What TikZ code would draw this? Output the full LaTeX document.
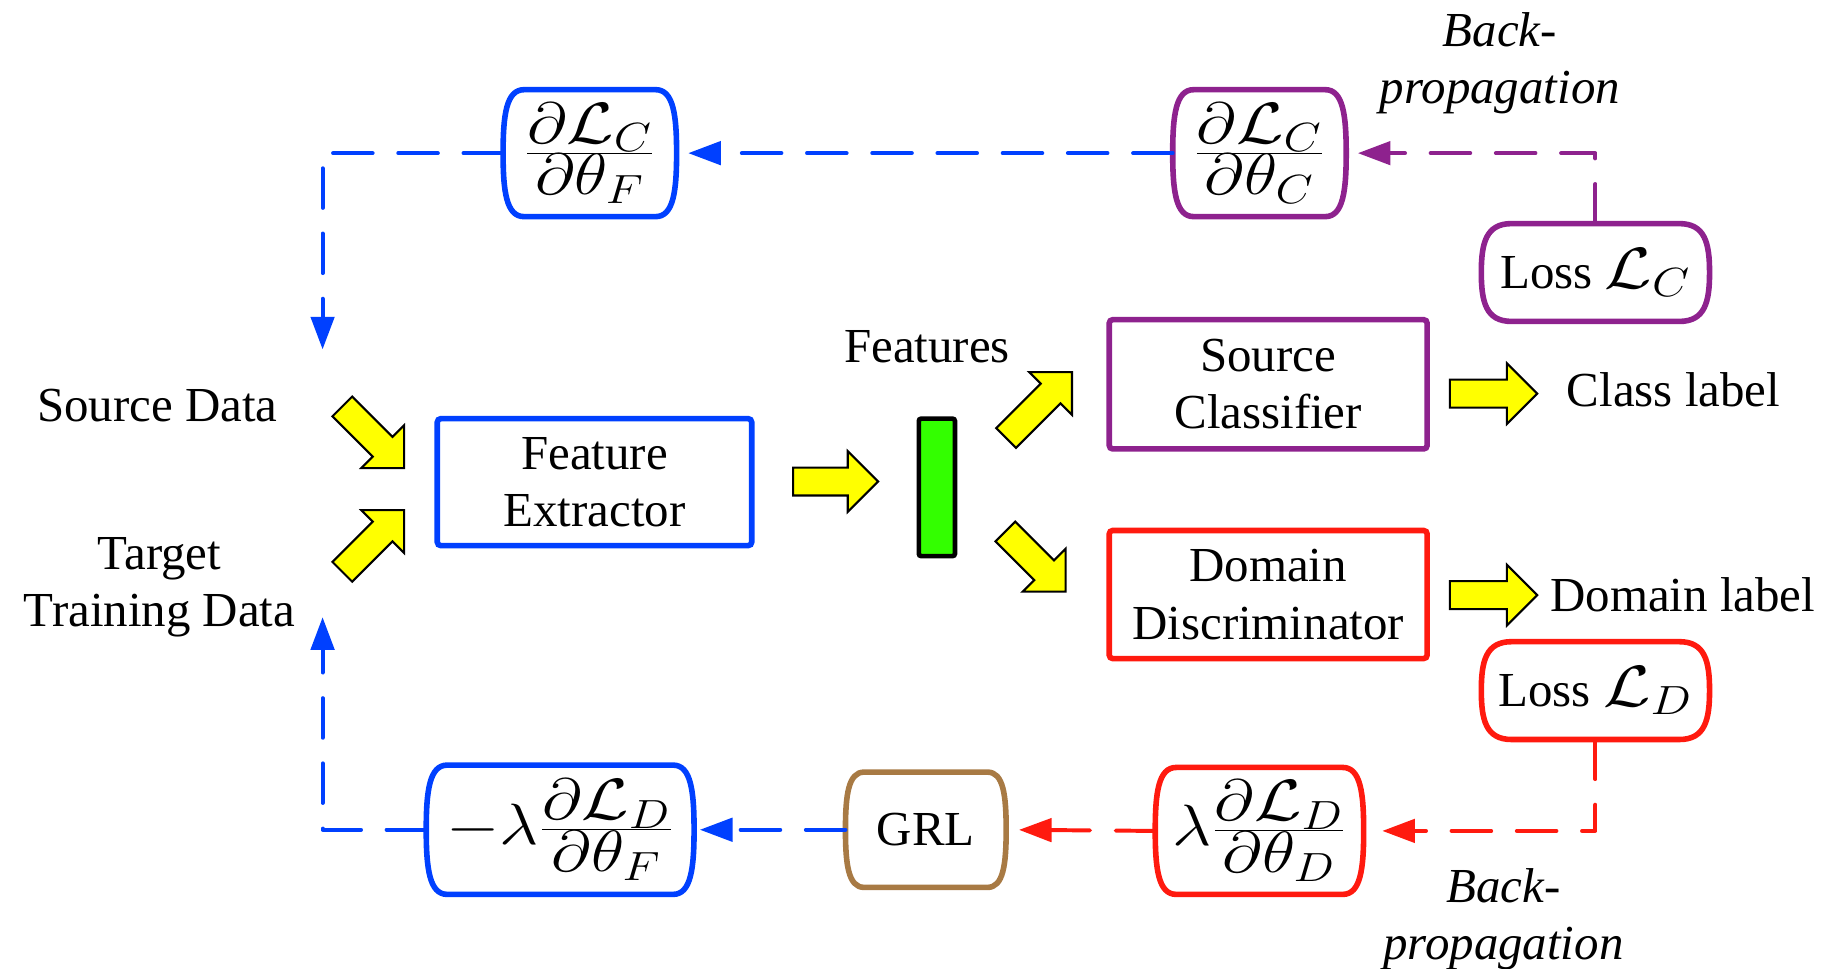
\RequirePackage{fix-cm}
\documentclass[tikz,border=0pt]{standalone}
\usepackage{graphicx}
\usepackage{fontspec}
\setmainfont{Liberation Serif}
\usetikzlibrary{arrows.meta}
\definecolor{cblue}{RGB}{0,64,255}
\definecolor{cpurple}{RGB}{142,34,142}
\definecolor{cred}{RGB}{255,26,15}
\definecolor{cbrown}{RGB}{168,122,68}
\definecolor{cgreen}{RGB}{51,255,0}
\definecolor{cyellow}{RGB}{255,255,0}
\newcommand\mainfs{\fontsize{21}{24.5}\selectfont}
\newcommand\mathfs{\fontsize{25}{28}\selectfont}
\newcommand\mwide[1]{{\mathfs\scalebox{1.18}[1]{$#1$}}}
\newcommand\fr[2]{\frac{\textstyle #1}{\textstyle #2}}
\newcommand\bulgeoutline[4]{%
  \draw[bulge,#1] ([xshift=#3]#2.north west) -- ([xshift=-#3]#2.north east)
    .. controls +(0.85*#3,0) and +(0,0.6*#4) .. (#2.east)
    .. controls +(0,-0.6*#4) and +(0.85*#3,0) .. ([xshift=-#3]#2.south east)
    -- ([xshift=#3]#2.south west)
    .. controls +(-0.85*#3,0) and +(0,-0.6*#4) .. (#2.west)
    .. controls +(0,0.6*#4) and +(-0.85*#3,0) .. ([xshift=#3]#2.north west) -- cycle;}
\begin{document}
\begin{tikzpicture}[x=0.5pt,y=-0.5pt, font=\mainfs,
  rbox/.style={draw, line width=2.4pt, rounded corners=1.5pt, inner sep=0pt, align=center},
  bnode/.style={inner sep=0pt, outer sep=0pt},
  bulge/.style={line width=2.4pt, line join=round},
  dline/.style={line width=1.7pt, dash pattern=on 17pt off 11pt, line cap=round, line join=round},
  arr/.style={-{Triangle[length=14pt,width=10pt]}},
  yarrow/.style={fill=cyellow, draw=black, line width=0.9pt, line join=miter},
  pics/yarr/.style={code={\draw[yarrow] (-#1,-12) -- (-26,-12) -- (-26,-26) -- (0,0) -- (-26,26) -- (-26,12) -- (-#1,12) -- cycle;}}]
\useasboundingbox (0,0) rectangle (1568,832);

% main boxes
\node[rbox, draw=cblue, minimum width=135pt, minimum height=54.5pt] (fe) at (510.5,414) {Feature\\Extractor};
\node[rbox, draw=cpurple, minimum width=136.5pt, minimum height=55.5pt] (sc) at (1089,330) {Source\\Classifier};
\node[rbox, draw=cred, minimum width=136.5pt, minimum height=55pt] (dd) at (1089,510.5) {Domain\\Discriminator};
\node[draw=black, fill=cgreen, line width=2pt, minimum width=15.5pt, minimum height=59pt, inner sep=0pt, rounded corners=1pt] (feat) at (804.5,418.5) {};

% gradient boxes
\node[bnode, minimum width=74.5pt, minimum height=54.5pt] (dF) at (506.5,131.5) {\mwide{\fr{\partial\mathcal{L}_C}{\partial\theta_F}}};
\bulgeoutline{cblue}{dF}{9pt}{27.25pt}
\node[bnode, minimum width=74.5pt, minimum height=54.5pt] (dC) at (1081.5,131.5) {\mwide{\fr{\partial\mathcal{L}_C}{\partial\theta_C}}};
\bulgeoutline{cpurple}{dC}{9pt}{27.25pt}
\node[bnode, minimum width=98pt, minimum height=42pt] (LC) at (1370,234) {Loss \mwide{\mathcal{L}_C}};
\bulgeoutline{cpurple}{LC}{13pt}{21pt}
\node[bnode, minimum width=98pt, minimum height=42pt] (LD) at (1370,593) {Loss \mwide{\mathcal{L}_D}};
\bulgeoutline{cred}{LD}{13pt}{21pt}
\node[bnode, minimum width=115pt, minimum height=55.5pt] (mF) at (481,712.5) {\mwide{-\lambda\fr{\partial\mathcal{L}_D}{\partial\theta_F}}};
\bulgeoutline{cblue}{mF}{9pt}{27.75pt}
\node[bnode, minimum width=69pt, minimum height=49.5pt] (GRL) at (795,712.5) {GRL};
\bulgeoutline{cbrown}{GRL}{8pt}{24.75pt}
\node[bnode, minimum width=89.5pt, minimum height=54.5pt] (lD) at (1081.5,713.5) {\mwide{\lambda\fr{\partial\mathcal{L}_D}{\partial\theta_D}}};
\bulgeoutline{cred}{lD}{9pt}{27.25pt}

% labels
\node (srcd) at (135,348) {Source Data};
\node[align=center] (tgtd) at (137,504) {Target\\Training Data};
\node (feats) at (796,298) {Features};
\node (cls) at (1437,335) {Class label};
\node (dom) at (1445,511) {Domain label};
\node[align=center, font=\mainfs\itshape] (bp1) at (1288,54) {Back-\\propagation};
\node[align=center, font=\mainfs\itshape] (bp2) at (1291,789) {Back-\\propagation};

% free ends
\coordinate (tle) at (277,300);
\coordinate (ble) at (277,530);

% yellow block arrows (placed by tip)
\pic[rotate=-45] at (347,402) {yarr=75};
\pic[rotate=45] at (347,438) {yarr=75};
\pic at (754,413.5) {yarr=73};
\pic[rotate=45] at (920.5,319.5) {yarr=80};
\pic[rotate=-45] at (915,508) {yarr=73};
\pic at (1320,338) {yarr=75};
\pic at (1320,511) {yarr=75};

% backprop connectors
\draw[dline, cblue, arr, shorten >=5pt] (dC.west) -- (dF.east);
\draw[dline, cblue, arr] (dF.west) -| (tle);
\draw[dline, cpurple, arr, shorten >=5pt] (LC.north) |- (dC.east);
\draw[dline, cred, arr, shorten >=8pt] (LD.south) |- (lD.east);
\draw[dline, cred, arr, shorten >=5.5pt] (lD.west) -- (GRL.east);
\draw[dline, cblue, arr, shorten >=2.5pt] (GRL.west) -- (mF.east);
\draw[dline, cblue, arr] (mF.west) -| (ble);
\end{tikzpicture}
\end{document}
